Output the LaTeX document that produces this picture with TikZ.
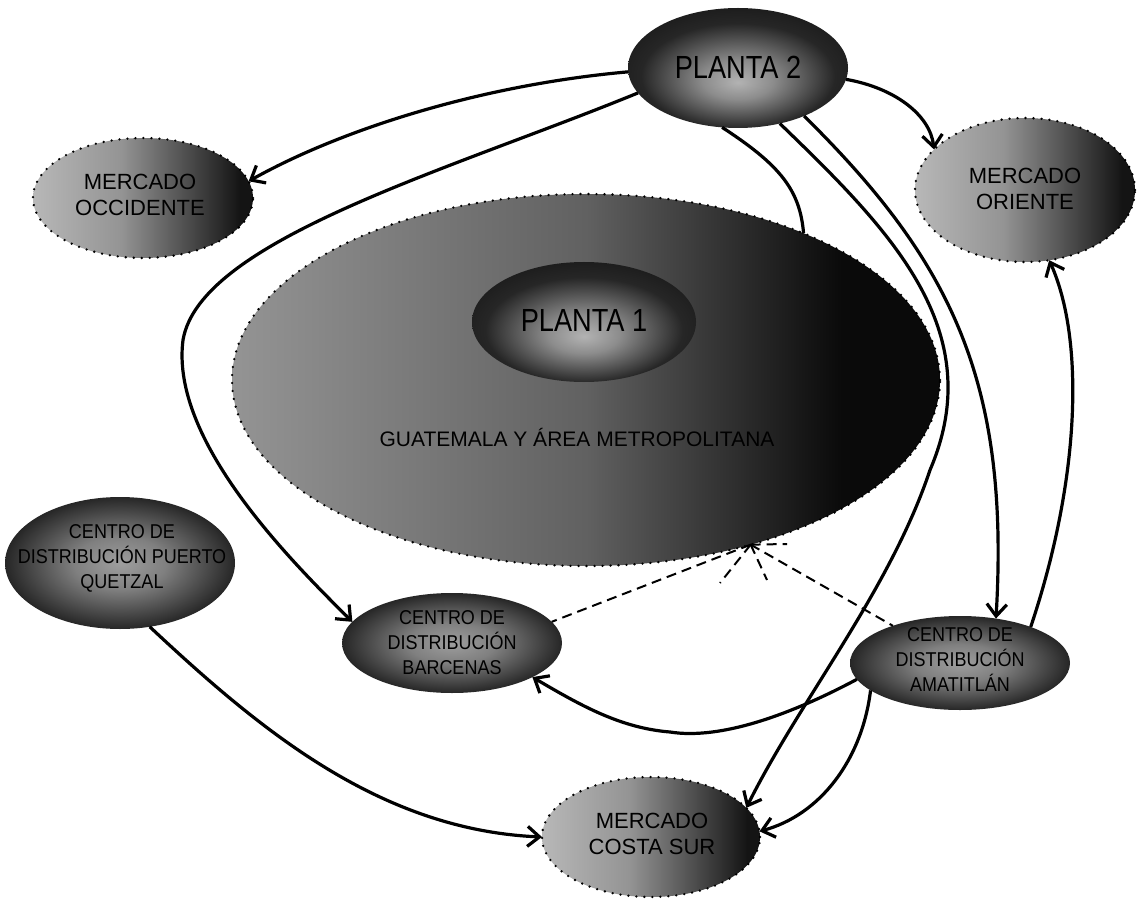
\documentclass[tikz,border=0pt]{standalone}
\usepackage{fontspec}
\usepackage{graphicx}
\setmainfont{Liberation Sans}
\usetikzlibrary{shapes.geometric,arrows.meta}

% fills of the ellipses
\pgfdeclarehorizontalshading{marketshade}{100bp}{color(0bp)=(black!28); color(25bp)=(black!28); color(45bp)=(black!42); color(72bp)=(black!92); color(100bp)=(black!92)}
\pgfdeclarehorizontalshading{metroshade}{100bp}{color(0bp)=(black!42); color(25bp)=(black!42); color(50bp)=(black!62); color(68bp)=(black!96); color(100bp)=(black!96)}
\pgfdeclareradialshading{plantshade}{\pgfpoint{0bp}{-6bp}}{color(0bp)=(black!30); color(8bp)=(black!45); color(22bp)=(black!85); color(30bp)=(black!90); color(50bp)=(black!90)}
\pgfdeclareradialshading{centreshade}{\pgfpoint{0bp}{0bp}}{color(0bp)=(black!38); color(10bp)=(black!50); color(25bp)=(black!85); color(50bp)=(black!85)}

\newcommand{\ctrtext}[1]{{\fontsize{10}{12.5}\selectfont\scalebox{0.9}[1]{\begin{tabular}{@{}c@{}}#1\end{tabular}}}}
\newcommand{\mkttext}[1]{{\fontsize{11}{13}\selectfont\begin{tabular}{@{}c@{}}#1\end{tabular}}}
\newcommand{\planttext}[1]{{\fontsize{16}{18}\selectfont\scalebox{0.85}[1]{#1}}}

\tikzset{
  zone/.style={ellipse, inner sep=0pt, outer sep=0pt},
  market/.style={zone, shade, shading=marketshade, draw=black, line width=1.3pt,
                 dash pattern=on 0pt off 4pt, line cap=round},
  metro/.style={zone, shade, shading=metroshade, draw=black, line width=1.3pt,
                dash pattern=on 0pt off 4pt, line cap=round},
  plant/.style={zone, shade, shading=plantshade},
  centre/.style={zone, shade, shading=centreshade},
  txt/.style={inner sep=0pt, text=black},
  conn/.style={draw=black, line width=1.6pt, -{Straight Barb[length=6pt,width=10pt]}},
  plainconn/.style={draw=black, line width=1.6pt},
  linkdash/.style={draw=black, line width=1pt, dash pattern=on 5pt off 3pt}
}

\begin{document}
\begin{tikzpicture}[x=0.5pt,y=-0.5pt]
\useasboundingbox (0,0) rectangle (1138,898);

% metropolitan area with the first plant inside
\node[metro, minimum width=354pt, minimum height=186pt] (big) at (586,380) {};
\node[plant, minimum width=112pt, minimum height=60pt] (p1) at (584,322) {};
\node[txt] (p1t) at (584,320) {\planttext{PLANTA 1}};
\node[txt] (bigt) at (577,437) {\fontsize{10.5}{12}\selectfont GUATEMALA Y ÁREA METROPOLITANA};

% second plant
\node[plant, minimum width=110pt, minimum height=60pt] (p2) at (738,68) {};
\node[txt] (p2t) at (738,67) {\planttext{PLANTA 2}};

% markets
\node[market, minimum width=110pt, minimum height=60pt] (occ) at (143,198) {};
\node[txt] (occt) at (140,197) {\mkttext{MERCADO\\OCCIDENTE}};
\node[market, minimum width=110pt, minimum height=72pt] (ori) at (1025,190) {};
\node[txt] (orit) at (1025,191) {\mkttext{MERCADO\\ORIENTE}};
\node[market, minimum width=109pt, minimum height=60pt] (sur) at (651,837) {};
\node[txt] (surt) at (652,836) {\mkttext{MERCADO\\COSTA SUR}};

% distribution centres
\node[centre, minimum width=115pt, minimum height=66pt] (quetzal) at (120,563) {};
\node[txt] (quetzalt) at (122,558) {\ctrtext{CENTRO DE\\DISTRIBUCIÓN PUERTO\\QUETZAL}};
\node[centre, minimum width=110pt, minimum height=50pt] (barc) at (452,643) {};
\node[txt] (barct) at (452,644) {\ctrtext{CENTRO DE\\DISTRIBUCIÓN\\BARCENAS}};
\node[centre, minimum width=110pt, minimum height=47pt] (amat) at (960,663) {};
\node[txt] (amatt) at (960,661) {\ctrtext{CENTRO DE\\DISTRIBUCIÓN\\AMATITLÁN}};

% bend points of the longer routes
\coordinate (loopw) at (183,340);
\coordinate (eastbend) at (930,470);
\coordinate (dip) at (670,732);
\coordinate (s1) at (720,583);
\coordinate (s2) at (767,580);
\coordinate (s3) at (787,544);

% routes from the second plant
\draw[conn] (p2.182) .. controls (480,85) and (340,130) .. (occ.9);
\draw[conn] (p2.194) .. controls (450,170) and (200,240) .. (loopw)
            .. controls (170,440) and (290,560) .. (barc.168);
\draw[plainconn] (p2.255) .. controls (780,165) and (800,190) .. (big.34);
\draw[conn] (p2.307) .. controls (890,230) and (990,330) .. (eastbend)
            .. controls (890,590) and (800,700) .. (sur.17);
\draw[conn] (p2.324) .. controls (950,260) and (1010,380) .. (amat.51);
\draw[conn] (p2.354) .. controls (895,88) and (930,115) .. (ori.156);

% routes from Amatitlán and Puerto Quetzal
\draw[conn] (amat.27) .. controls (1080,480) and (1085,340) .. (ori.289);
\draw[conn] (amat.189) .. controls (790,715) and (720,740) .. (dip)
            .. controls (620,728) and (580,705) .. (barc.337);
\draw[conn] (amat.197) .. controls (862,760) and (820,815) .. (sur.3);
\draw[conn] (quetzal.295) .. controls (260,730) and (380,830) .. (sur.180);

% supply links from the metropolitan area
\draw[linkdash] (big.315) -- (barc.12);
\draw[linkdash] (big.315) -- (amat.151);
\draw[linkdash] (big.315) -- (s1);
\draw[linkdash] (big.315) -- (s2);
\draw[linkdash] (big.315) -- (s3);
\end{tikzpicture}
\end{document}
